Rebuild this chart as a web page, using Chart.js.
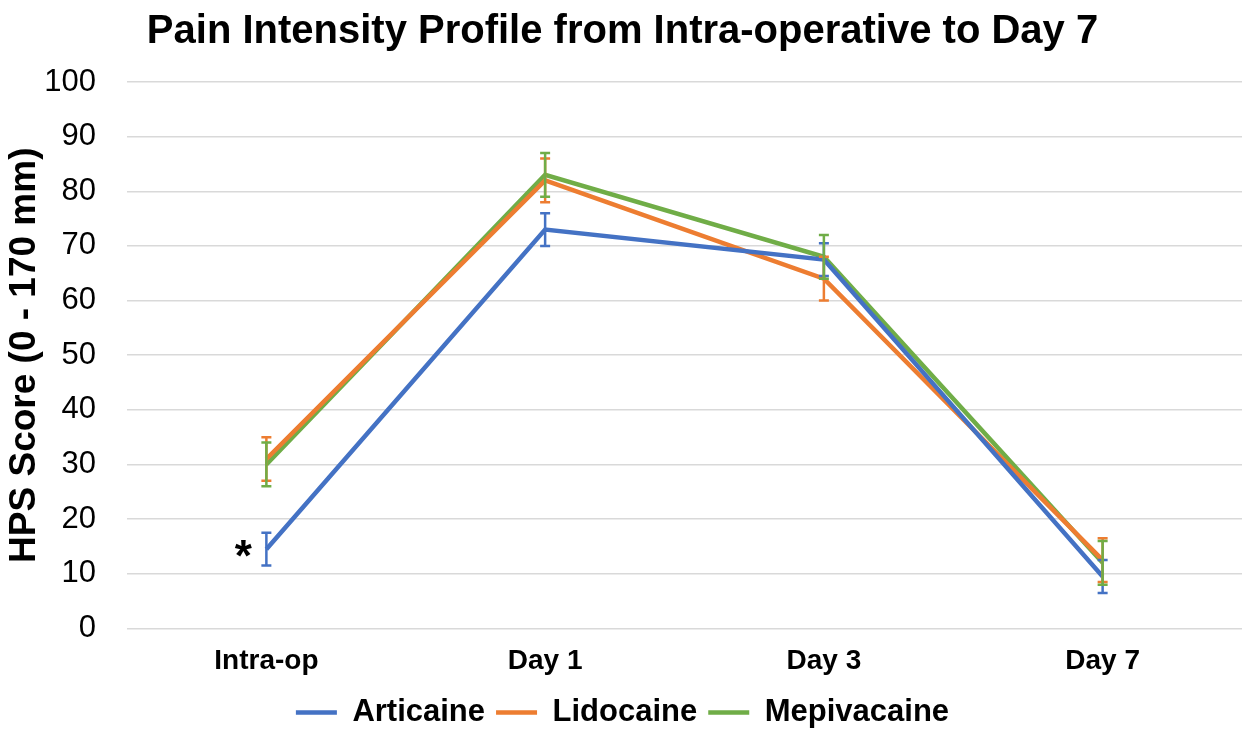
<!DOCTYPE html>
<html>
<head>
<meta charset="utf-8">
<script src="https://cdn.jsdelivr.net/npm/chart.js@4.4.0/dist/chart.umd.min.js"></script>
<style>
  html, body { margin: 0; padding: 0; background: #fff; }
  #wrap { width: 1250px; height: 738px; }
</style>
</head>
<body>
<div id="wrap"><canvas id="painChart"></canvas></div>
<script>
const timepoints = ["Intra-op", "Day 1", "Day 3", "Day 7"];

const articaine = [14.5, 73, 67.5, 9.5];
const lidocaine = [31, 82, 64, 12.5];
const mepivacaine = [30, 83, 68, 12];

// +/- error for each point
const articaineErr = [3, 3, 3, 3];
const lidocaineErr = [4, 4, 4, 4];
const mepivacaineErr = [4, 4, 4, 4];

const yTicks = [0, 10, 20, 30, 40, 50, 60, 70, 80, 90, 100];

const FONT = "'Liberation Sans', Arial, sans-serif";

const errorBars = {
  id: "errorBars",
  afterDatasetsDraw(chart) {
    const { ctx, scales } = chart;
    chart.data.datasets.forEach((ds, i) => {
      const meta = chart.getDatasetMeta(i);
      if (meta.hidden) return;
      ctx.save();
      ctx.strokeStyle = ds.borderColor;
      ctx.lineWidth = 2.5;
      meta.data.forEach((pt, j) => {
        const v = ds.data[j];
        const e = ds.errors[j];
        const top = scales.y.getPixelForValue(v + e);
        const bot = scales.y.getPixelForValue(v - e);
        const x = pt.x;
        ctx.beginPath();
        ctx.moveTo(x, top);
        ctx.lineTo(x, bot);
        ctx.moveTo(x - 5, top);
        ctx.lineTo(x + 5, top);
        ctx.moveTo(x - 5, bot);
        ctx.lineTo(x + 5, bot);
        ctx.stroke();
      });
      ctx.restore();
    });

    // significance marker next to articaine intra-op
    const p = chart.getDatasetMeta(0).data[0];
    ctx.save();
    ctx.fillStyle = "#000";
    ctx.font = "bold 44px " + FONT;
    ctx.textAlign = "center";
    ctx.textBaseline = "middle";
    ctx.fillText("*", p.x - 23, p.y + 10);
    ctx.restore();
  },
};

const ctx = document.getElementById("painChart").getContext("2d");

new Chart(ctx, {
  type: "line",
  data: {
    labels: timepoints,
    datasets: [
      { label: "Articaine", data: articaine, errors: articaineErr, borderColor: "#4472C4", backgroundColor: "#4472C4" },
      { label: "Lidocaine", data: lidocaine, errors: lidocaineErr, borderColor: "#ED7D31", backgroundColor: "#ED7D31" },
      { label: "Mepivacaine", data: mepivacaine, errors: mepivacaineErr, borderColor: "#70AD47", backgroundColor: "#70AD47" },
    ].map((d) => ({ ...d, borderWidth: 4.5, pointRadius: 0, fill: false, tension: 0 })),
  },
  options: {
    responsive: true,
    maintainAspectRatio: false,
    animation: false,
    layout: { padding: { left: 3, right: 8, top: 2, bottom: 0 } },
    plugins: {
      title: {
        display: true,
        text: "Pain Intensity Profile from Intra-operative to Day 7",
        color: "#000",
        font: { family: FONT, size: 40, weight: "bold" },
        padding: { top: 6, bottom: 26 },
      },
      legend: {
        position: "bottom",
        labels: {
          color: "#000",
          font: { family: FONT, size: 31, weight: "bold" },
          boxWidth: 41,
          boxHeight: 0,
          padding: 11,
        },
      },
      tooltip: { enabled: false },
    },
    scales: {
      x: {
        offset: true,
        grid: { display: false },
        border: { display: false },
        ticks: {
          color: "#000",
          padding: 8,
          font: { family: FONT, size: 28, weight: "bold" },
        },
      },
      y: {
        min: 0,
        max: 100,
        afterBuildTicks: (axis) => { axis.ticks = yTicks.map((v) => ({ value: v })); },
        afterFit: (axis) => { axis.width = 124; },
        grid: { color: "#d9d9d9", lineWidth: 1.5, drawTicks: false },
        border: { display: false },
        ticks: {
          color: "#000",
          padding: 31,
          font: { family: FONT, size: 31 },
        },
        title: {
          display: true,
          text: "HPS Score (0 - 170 mm)",
          color: "#000",
          font: { family: FONT, size: 37, weight: "bold" },
          padding: 0,
        },
      },
    },
  },
  plugins: [errorBars],
});
</script>
</body>
</html>
